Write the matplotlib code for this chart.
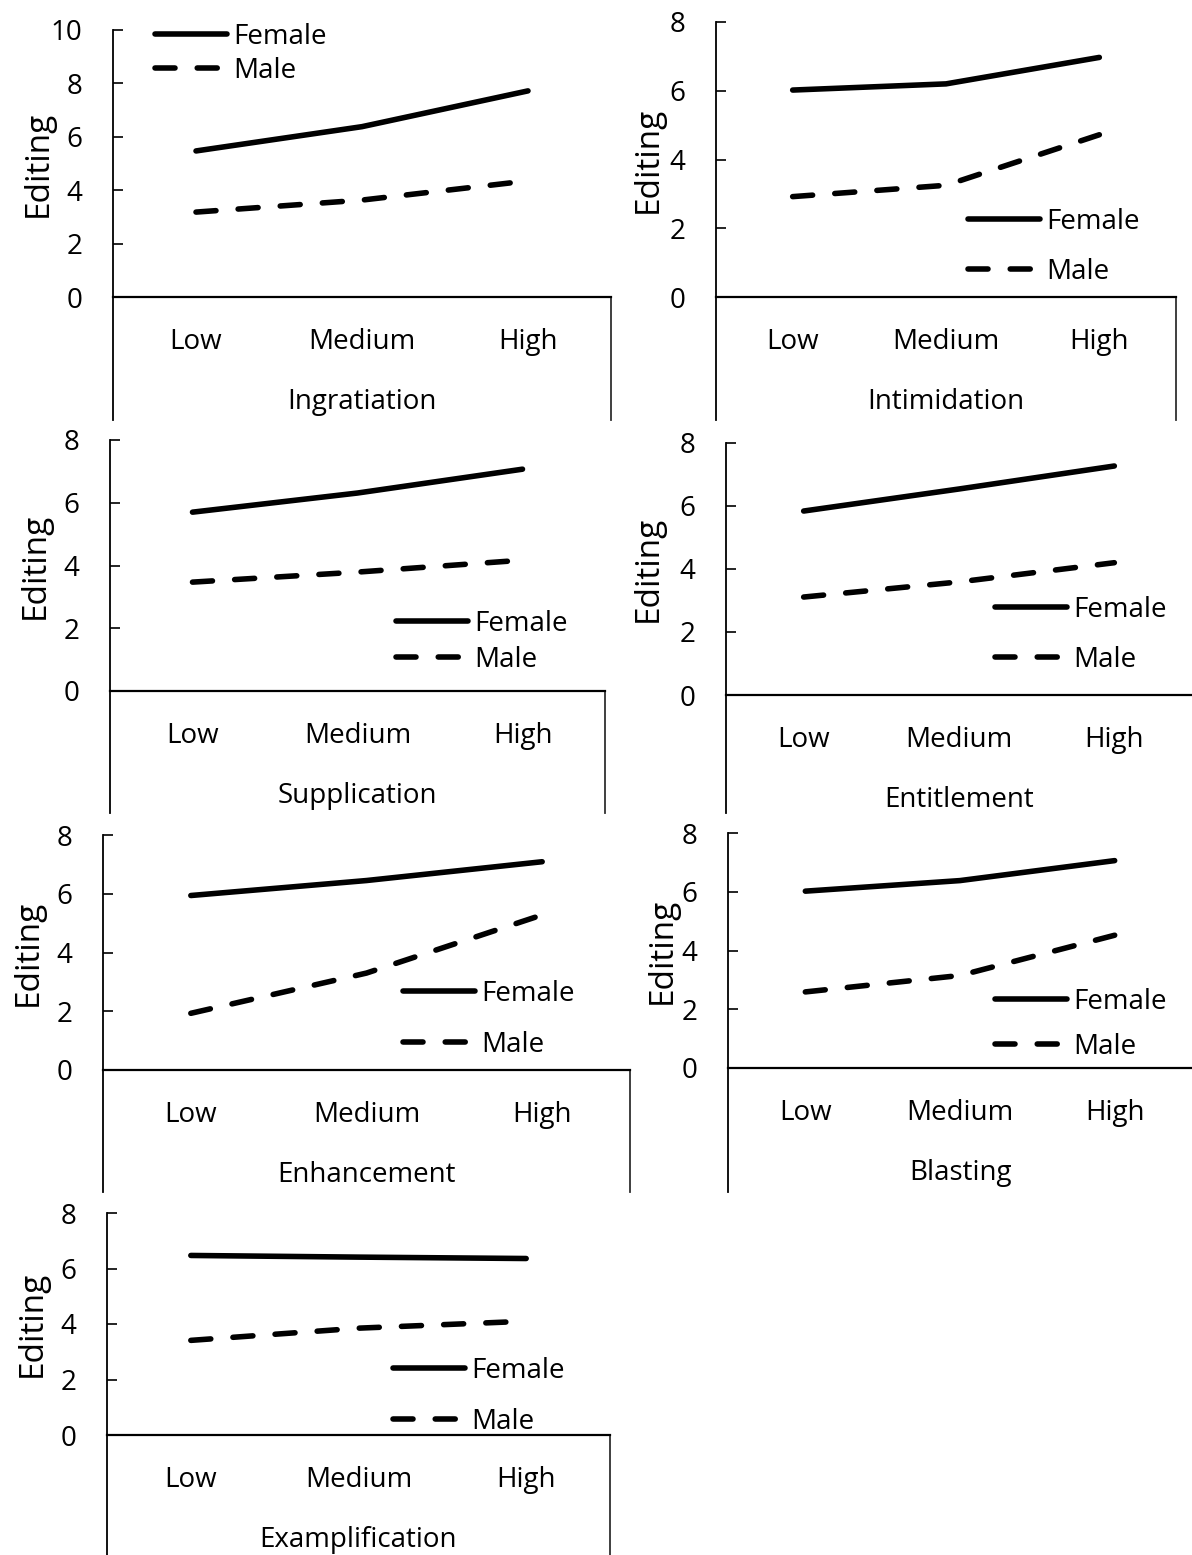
import numpy as np
import matplotlib
matplotlib.use("Agg")
import matplotlib.pyplot as plt

plt.rcParams['font.family'] = ['Open Sans', 'DejaVu Sans']

#Category labels and the two groups.
levels = ['Low', 'Medium', 'High']
groups = ['Female', 'Male']

#Panel names (x-axis titles).
tactics = ['Ingratiation', 'Intimidation', 'Supplication', 'Entitlement',
           'Enhancement', 'Blasting', 'Examplification']

#Editing scores, one list per panel and group.
ingratiation_female = [5.47, 6.38, 7.72]
ingratiation_male = [3.18, 3.63, 4.35]
intimidation_female = [6.02, 6.20, 6.97]
intimidation_male = [2.92, 3.25, 4.72]
supplication_female = [5.70, 6.31, 7.07]
supplication_male = [3.47, 3.79, 4.17]
entitlement_female = [5.84, 6.54, 7.27]
entitlement_male = [3.11, 3.59, 4.20]
enhancement_female = [5.94, 6.45, 7.09]
enhancement_male = [1.93, 3.30, 5.28]
blasting_female = [6.02, 6.38, 7.06]
blasting_male = [2.59, 3.15, 4.52]
examplification_female = [6.47, 6.41, 6.36]
examplification_male = [3.41, 3.85, 4.10]

female = [ingratiation_female, intimidation_female, supplication_female, entitlement_female,
          enhancement_female, blasting_female, examplification_female]
male = [ingratiation_male, intimidation_male, supplication_male, entitlement_male,
        enhancement_male, blasting_male, examplification_male]
ymax = [10, 8, 8, 8, 8, 8, 8]

W, H = 1192, 1555
fig = plt.figure(figsize=(W/100, H/100), dpi=100)

#Panel boxes in pixels: left, right, top tick, zero line, bottom, draw right border?
layout = [(113, 611, 30, 297, 420, True),
          (716, 1176, 22, 297, 420, True),
          (110, 605, 440, 691, 813, True),
          (726, 1192, 443, 695, 813, False),
          (103, 630, 835, 1070, 1192, True),
          (728, 1192, 833, 1068, 1192, False),
          (107, 610, 1213, 1435, 1555, True)]

#Centre of the "Editing" title, pixels left of the y-axis.
ylabel_off = [75, 68, 75, 78, 75, 66, 75]

#Legend: x where the line sample starts, y of first row, y of second row (pixels).
legend_pos = [(155, 37, 71), (968, 222, 272), (396, 624, 660), (995, 610, 660),
              (403, 994, 1045), (995, 1002, 1047), (393, 1371, 1422)]

fs = 20
fs_px = fs*100/72.0
x = np.arange(len(levels))

for i in range(7):
    left, right, top, zero, bottom, border = layout[i]
    ax = fig.add_axes([left/W, 1 - zero/H, (right - left)/W, (zero - top)/H])
    ax.plot(x, female[i], color='black', lw=4.0, solid_capstyle='round', label=groups[0])
    ax.plot(x, male[i], color='black', lw=4.0, dashes=(3.6, 4.0), dash_capstyle='round', label=groups[1])
    ax.set_xlim(-0.5, 2.5)
    ax.set_ylim(0, ymax[i])
    ax.set_yticks(np.arange(0, ymax[i] + 1, 2))
    ax.set_xticks(x)
    ax.set_xticklabels(levels)
    ax.tick_params(axis='y', direction='in', length=7, width=1.2, pad=22, labelsize=fs)
    ax.tick_params(axis='x', length=0, pad=22, labelsize=fs)
    for s in ['top', 'right']:
        ax.spines[s].set_visible(False)
    ax.spines['left'].set_linewidth(1.3)
    ax.spines['bottom'].set_linewidth(1.6)
    ax.set_facecolor('none')

    #Chart border below the x-axis.
    ext = -(bottom - zero)/(zero - top)
    ax.plot([0, 0], [0, ext], transform=ax.transAxes, clip_on=False, color='black', lw=1.3)
    if border:
        ax.plot([1, 1], [0, ext], transform=ax.transAxes, clip_on=False, color='#303030', lw=1.3)

    ax.set_xlabel(tactics[i], fontsize=fs, va='center')
    ax.xaxis.set_label_coords(0.5, -105/(zero - top))
    ax.set_ylabel('Editing', fontsize=24, va='center')
    ax.yaxis.set_label_coords(-ylabel_off[i]/(right - left), 0.5)

    lx, ly1, ly2 = legend_pos[i]
    gap = ly2 - ly1
    ax.legend(loc='center left', bbox_to_anchor=(lx/W, 1 - (ly1 + ly2)/2/H),
              bbox_transform=fig.transFigure, frameon=False, fontsize=fs,
              borderpad=0, borderaxespad=0, handlelength=2.6, handletextpad=0.2,
              labelspacing=max(gap - 28, 0)/fs_px)

fig.savefig('out.png', dpi=100)
